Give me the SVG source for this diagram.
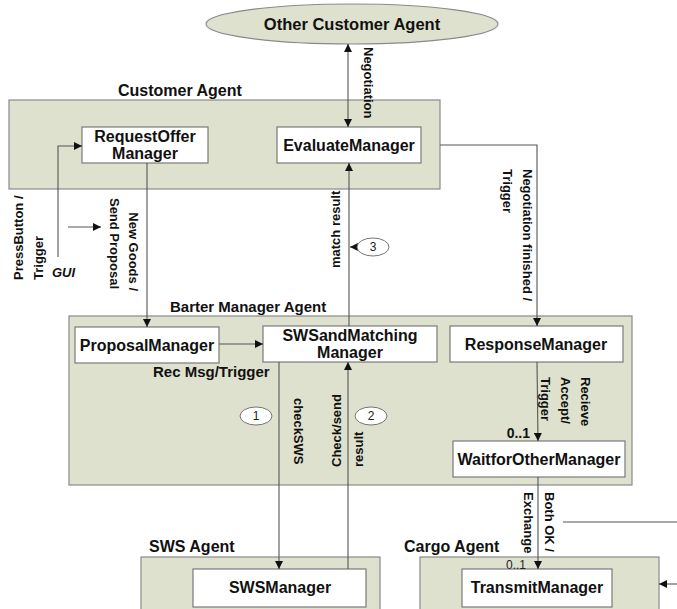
<svg xmlns="http://www.w3.org/2000/svg" width="677" height="609" viewBox="0 0 677 609">
<style>
.grp{fill:#dee1cd;stroke:#8a8a8a;stroke-width:1.2}
.box{fill:#ffffff;stroke:#7a7a7a;stroke-width:1.2}
.lbl{font-family:"Liberation Sans",Arial,sans-serif;font-weight:bold;font-size:16px;fill:#111;text-anchor:middle}
.glbl{font-family:"Liberation Sans",Arial,sans-serif;font-weight:bold;font-size:16px;fill:#111}
.rt{font-family:"Liberation Sans",Arial,sans-serif;font-weight:bold;font-size:13px;fill:#111;dominant-baseline:central}
.num{font-family:"Liberation Sans",Arial,sans-serif;font-size:12px;fill:#222;text-anchor:middle;dominant-baseline:central}
.ln{fill:none;stroke:#555;stroke-width:1.1}
.circ{fill:#fff;stroke:#777;stroke-width:1}
</style>
<defs>
<marker id="ah" viewBox="0 0 10 10" refX="10" refY="5" markerWidth="8" markerHeight="8" markerUnits="userSpaceOnUse" orient="auto-start-reverse">
<path d="M0,0 L10,5 L0,10 Z" fill="#111"/>
</marker>
</defs>

<g id="other-customer-agent">
<ellipse cx="352" cy="24" rx="146" ry="20" class="grp"/>
<text x="352" y="30" class="lbl" style="font-size:16.5px">Other Customer Agent</text>
</g>

<g id="customer-agent">
<text x="118" y="96" class="glbl">Customer Agent</text>
<rect x="9" y="100" width="431" height="89" class="grp"/>
</g>
<g id="request-offer-manager">
<rect x="82" y="127" width="126" height="36" class="box"/>
<text x="145" y="142" class="lbl">RequestOffer</text>
<text x="145" y="159" class="lbl">Manager</text>
</g>
<g id="evaluate-manager">
<rect x="277" y="127" width="144" height="36" class="box"/>
<text x="349" y="151" class="lbl">EvaluateManager</text>
</g>

<g id="barter-manager-agent">
<text x="170" y="312" class="glbl" style="font-size:15px">Barter Manager Agent</text>
<rect x="69" y="316" width="563" height="169" class="grp"/>
</g>
<g id="proposal-manager">
<rect x="75" y="327" width="144" height="36" class="box"/>
<text x="147" y="351" class="lbl">ProposalManager</text>
</g>
<g id="sws-matching-manager">
<rect x="263" y="326" width="174" height="36" class="box"/>
<text x="350" y="341" class="lbl">SWSandMatching</text>
<text x="350" y="358" class="lbl">Manager</text>
</g>
<g id="response-manager">
<rect x="450" y="326" width="173" height="36" class="box"/>
<text x="536" y="350" class="lbl">ResponseManager</text>
</g>
<g id="waitfor-other-manager">
<rect x="453" y="441" width="172" height="36" class="box"/>
<text x="539" y="465" class="lbl">WaitforOtherManager</text>
</g>

<g id="sws-agent">
<text x="149" y="552" class="glbl">SWS Agent</text>
<rect x="141" y="557" width="239" height="70" class="grp"/>
</g>
<g id="sws-manager">
<rect x="193" y="569" width="173" height="38" class="box"/>
<text x="280" y="593" class="lbl">SWSManager</text>
</g>

<g id="cargo-agent">
<text x="404" y="552" class="glbl">Cargo Agent</text>
<rect x="420" y="557" width="239" height="70" class="grp"/>
</g>
<g id="transmit-manager">
<rect x="462" y="569" width="150" height="38" class="box"/>
<text x="537" y="593" class="lbl">TransmitManager</text>
</g>

<g id="connectors">
<line x1="348" y1="44" x2="348" y2="127" class="ln" marker-start="url(#ah)" marker-end="url(#ah)"/>
<polyline points="58,257 58,146 82,146" class="ln" marker-end="url(#ah)"/>
<line x1="68" y1="227" x2="101" y2="227" class="ln" marker-end="url(#ah)"/>
<line x1="147" y1="163" x2="147" y2="327" class="ln" marker-end="url(#ah)"/>
<line x1="219" y1="344" x2="263" y2="344" class="ln" marker-end="url(#ah)"/>
<line x1="349" y1="326" x2="349" y2="163" class="ln" marker-end="url(#ah)"/>
<polyline points="440,145 537,145 537,326" class="ln" marker-end="url(#ah)"/>
<line x1="279" y1="362" x2="279" y2="569" class="ln" marker-end="url(#ah)"/>
<line x1="348" y1="569" x2="348" y2="362" class="ln" marker-end="url(#ah)"/>
<line x1="537" y1="362" x2="538" y2="441" class="ln" marker-end="url(#ah)"/>
<line x1="538" y1="477" x2="538" y2="569" class="ln" marker-end="url(#ah)"/>
<line x1="563" y1="522" x2="677" y2="522" class="ln"/>
<line x1="677" y1="584" x2="659" y2="584" class="ln" marker-end="url(#ah)"/>
<line x1="357" y1="247" x2="350" y2="247" class="ln" marker-end="url(#ah)"/>

<ellipse cx="373" cy="247" rx="16" ry="9" class="circ"/>
<text x="373" y="247" class="num">3</text>
<ellipse cx="256" cy="416" rx="16" ry="9" class="circ"/>
<text x="256" y="416" class="num">1</text>
<ellipse cx="371" cy="416" rx="16" ry="9" class="circ"/>
<text x="371" y="416" class="num">2</text>

<text transform="translate(368,47) rotate(90)" class="rt">Negotiation</text>
<text transform="translate(18,280) rotate(-90)" class="rt">PressButton /</text>
<text transform="translate(38,280) rotate(-90)" class="rt">Trigger</text>
<text x="52" y="277" class="glbl" style="font-size:13px;font-style:italic">GUI</text>
<text transform="translate(133,291) rotate(90)" class="rt" text-anchor="end">New Goods /</text>
<text transform="translate(114,289) rotate(90)" class="rt" text-anchor="end">Send Proposal</text>
<text transform="translate(335,268) rotate(-90)" class="rt">match result</text>
<text transform="translate(527,169) rotate(90)" class="rt">Negotiation finished /</text>
<text transform="translate(507,169) rotate(90)" class="rt">Trigger</text>
<text x="153" y="377" class="glbl" style="font-size:15px">Rec Msg/Trigger</text>
<text transform="translate(298,398) rotate(90)" class="rt">checkSWS</text>
<text transform="translate(336,467) rotate(-90)" class="rt">Check/send</text>
<text transform="translate(358,467) rotate(-90)" class="rt">result</text>
<text transform="translate(585,377) rotate(90)" class="rt">Recieve</text>
<text transform="translate(565,377) rotate(90)" class="rt">Accept/</text>
<text transform="translate(545,377) rotate(90)" class="rt">Trigger</text>
<text x="530" y="438" class="glbl" style="font-size:14px" text-anchor="end">0..1</text>
<text transform="translate(549,492) rotate(90)" class="rt">Both OK /</text>
<text transform="translate(528,492) rotate(90)" class="rt">Exchange</text>
<text x="526" y="569" style="font-family:'Liberation Sans',Arial,sans-serif;font-size:12px;fill:#222" text-anchor="end">0..1</text>
</g>
</svg>
